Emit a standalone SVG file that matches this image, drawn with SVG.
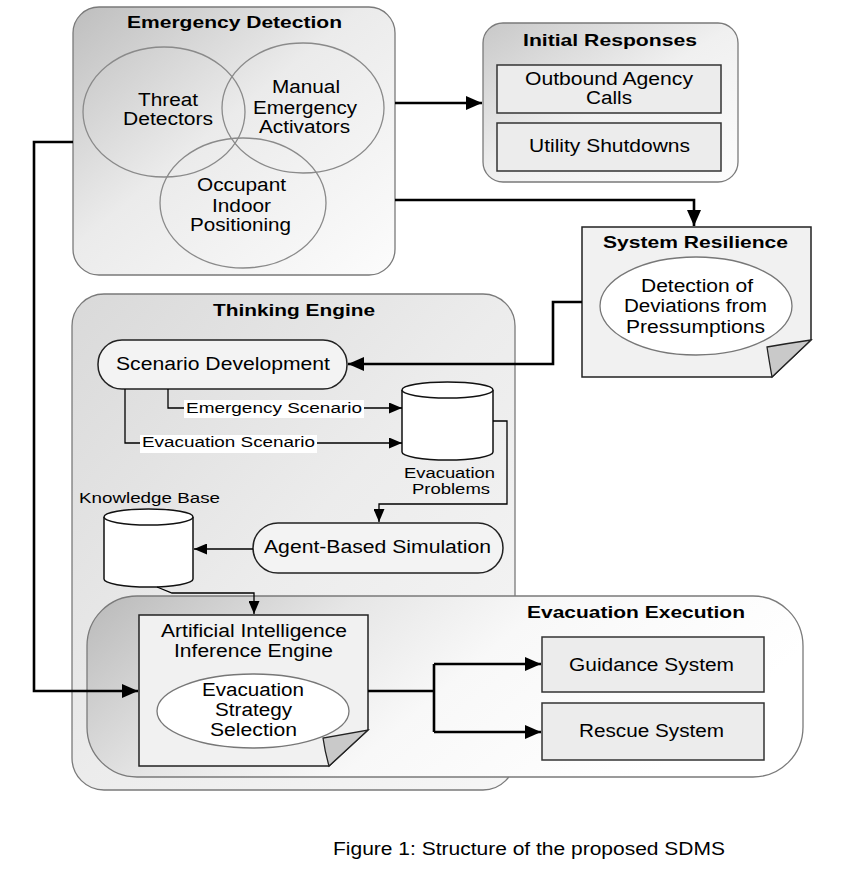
<svg xmlns="http://www.w3.org/2000/svg" width="850" height="875" viewBox="0 0 850 875">
<defs>
<linearGradient id="gED" x1="0" y1="0" x2="1" y2="1">
<stop offset="0" stop-color="#bebebe"/><stop offset="0.45" stop-color="#ebebeb"/><stop offset="1" stop-color="#fcfcfc"/>
</linearGradient>
<linearGradient id="gIR" x1="0" y1="0" x2="1" y2="1">
<stop offset="0" stop-color="#c8c8c8"/><stop offset="0.5" stop-color="#f0f0f0"/><stop offset="1" stop-color="#fcfcfc"/>
</linearGradient>
<linearGradient id="gTE" x1="0" y1="0" x2="1" y2="1">
<stop offset="0" stop-color="#d9d9d9"/><stop offset="0.5" stop-color="#ececec"/><stop offset="1" stop-color="#f6f6f6"/>
</linearGradient>
<linearGradient id="gEE" x1="0" y1="0" x2="1" y2="0.3">
<stop offset="0" stop-color="#b9b9b9"/><stop offset="0.35" stop-color="#e6e6e6"/><stop offset="0.6" stop-color="#f8f8f8"/><stop offset="1" stop-color="#ffffff"/>
</linearGradient>
<marker id="ah" markerUnits="userSpaceOnUse" markerWidth="18" markerHeight="14" refX="16" refY="7" orient="auto">
<path d="M0,0 L16,7 L0,14 Z" fill="#000"/>
</marker>
<marker id="as" markerUnits="userSpaceOnUse" markerWidth="14" markerHeight="11" refX="13" refY="5.5" orient="auto">
<path d="M0,0 L13,5.5 L0,11 Z" fill="#000"/>
</marker>
</defs>
<style>
text{font-family:"Liberation Sans",Arial,sans-serif;font-size:18px;fill:#000;text-anchor:middle}
.b{font-weight:bold;font-size:16.5px}
.s{font-size:15.5px}
.cont{stroke:#7a7a7a;stroke-width:1.3}
.circ{fill:none;stroke:#8a8a8a;stroke-width:1.3}
.box{fill:#ececec;stroke:#333;stroke-width:1.5}
.doc{fill:#f1f1f1;stroke:#222;stroke-width:1.5}
.fold{fill:#c9c9c9;stroke:#222;stroke-width:1.3}
.ell{fill:#fff;stroke:#777;stroke-width:1.3}
.rnd{fill:#f3f3f3;stroke:#222;stroke-width:1.5}
.cyl{fill:#fff;stroke:#111;stroke-width:1.5}
.thick{fill:none;stroke:#000;stroke-width:2.6}
.thin{fill:none;stroke:#000;stroke-width:1.3}
</style>

<g id="thinking-engine">
<rect x="72" y="294" width="443" height="496" rx="32" fill="url(#gTE)" class="cont"/>
<text x="294" y="316" class="b" textLength="162" lengthAdjust="spacingAndGlyphs">Thinking Engine</text>
</g>

<g id="emergency-detection">
<rect x="73" y="7" width="322" height="268" rx="26" fill="url(#gED)" class="cont"/>
<text x="234.5" y="28" class="b" textLength="215" lengthAdjust="spacingAndGlyphs">Emergency Detection</text>
<ellipse cx="164" cy="112" rx="81" ry="65" class="circ"/>
<ellipse cx="303" cy="108" rx="81" ry="65" class="circ"/>
<ellipse cx="243" cy="203" rx="83" ry="65" class="circ"/>
<text x="168" y="106" textLength="60" lengthAdjust="spacingAndGlyphs">Threat</text>
<text x="168" y="125" textLength="90" lengthAdjust="spacingAndGlyphs">Detectors</text>
<text x="306" y="93" textLength="68" lengthAdjust="spacingAndGlyphs">Manual</text>
<text x="305" y="114" textLength="104" lengthAdjust="spacingAndGlyphs">Emergency</text>
<text x="304.5" y="133" textLength="91" lengthAdjust="spacingAndGlyphs">Activators</text>
<text x="241.5" y="191" textLength="89" lengthAdjust="spacingAndGlyphs">Occupant</text>
<text x="241.5" y="212" textLength="59" lengthAdjust="spacingAndGlyphs">Indoor</text>
<text x="240.5" y="231" textLength="101" lengthAdjust="spacingAndGlyphs">Positioning</text>
</g>

<g id="initial-responses">
<rect x="483" y="23" width="255" height="159" rx="20" fill="url(#gIR)" class="cont"/>
<text x="610" y="46" class="b" textLength="174" lengthAdjust="spacingAndGlyphs">Initial Responses</text>
<rect x="497" y="65" width="224" height="48" class="box"/>
<text x="609" y="85" textLength="168" lengthAdjust="spacingAndGlyphs">Outbound Agency</text>
<text x="609" y="104" textLength="46" lengthAdjust="spacingAndGlyphs">Calls</text>
<rect x="497" y="123" width="224" height="48" class="box"/>
<text x="609.5" y="152" textLength="161" lengthAdjust="spacingAndGlyphs">Utility Shutdowns</text>
</g>

<g id="system-resilience">
<path d="M582,227 H811 V340 L772,377 H582 Z" class="doc"/>
<path d="M772,377 Q769,360 767,347 Q790,343 811,340 Z" class="fold"/>
<text x="695.5" y="248" class="b" textLength="185" lengthAdjust="spacingAndGlyphs">System Resilience</text>
<ellipse cx="696" cy="306" rx="96" ry="49" class="ell"/>
<text x="697" y="292" textLength="112" lengthAdjust="spacingAndGlyphs">Detection of</text>
<text x="695.5" y="312" textLength="143" lengthAdjust="spacingAndGlyphs">Deviations from</text>
<text x="695.5" y="333" textLength="139" lengthAdjust="spacingAndGlyphs">Pressumptions</text>
</g>

<g id="scenario-development">
<rect x="98" y="340" width="249" height="49" rx="24" class="rnd"/>
<text x="223" y="370" textLength="214" lengthAdjust="spacingAndGlyphs">Scenario Development</text>
</g>

<g id="evacuation-problems">
<path d="M402,390 V452 A45.5,8 0 0 0 493,452 V390" class="cyl"/>
<ellipse cx="447.5" cy="390" rx="45.5" ry="8" class="cyl"/>
<text x="449.5" y="478" class="s" textLength="91" lengthAdjust="spacingAndGlyphs">Evacuation</text>
<text x="451" y="494" class="s" textLength="78" lengthAdjust="spacingAndGlyphs">Problems</text>
</g>

<g id="knowledge-base">
<text x="149.5" y="503" class="s" textLength="141" lengthAdjust="spacingAndGlyphs">Knowledge Base</text>
<path d="M104,517 V579 A44.5,8 0 0 0 193,579 V517" class="cyl"/>
<ellipse cx="148.5" cy="517" rx="44.5" ry="8" class="cyl"/>
</g>

<g id="agent-based-simulation">
<rect x="253" y="523" width="250" height="50" rx="25" class="rnd"/>
<text x="377.5" y="553" textLength="227" lengthAdjust="spacingAndGlyphs">Agent-Based Simulation</text>
</g>

<g id="evacuation-execution">
<rect x="87" y="596" width="716" height="181" rx="50" fill="url(#gEE)" class="cont"/>
<text x="636" y="618" class="b" textLength="218" lengthAdjust="spacingAndGlyphs">Evacuation Execution</text>
</g>

<g id="ai-inference-engine">
<path d="M139,615 H368 V730 L329,766 H139 Z" class="doc"/>
<path d="M329,766 Q325,752 323,738 Q345,734 368,730 Z" class="fold"/>
<text x="254" y="637" textLength="186" lengthAdjust="spacingAndGlyphs">Artificial Intelligence</text>
<text x="253.5" y="657" textLength="159" lengthAdjust="spacingAndGlyphs">Inference Engine</text>
<ellipse cx="253" cy="711" rx="96" ry="37" class="ell"/>
<text x="253" y="696" textLength="102" lengthAdjust="spacingAndGlyphs">Evacuation</text>
<text x="253.5" y="716" textLength="77" lengthAdjust="spacingAndGlyphs">Strategy</text>
<text x="253.5" y="736" textLength="87" lengthAdjust="spacingAndGlyphs">Selection</text>
</g>

<g id="guidance-system">
<rect x="542" y="637" width="222" height="55" class="box"/>
<text x="651.5" y="671" textLength="165" lengthAdjust="spacingAndGlyphs">Guidance System</text>
</g>

<g id="rescue-system">
<rect x="542" y="703" width="222" height="57" class="box"/>
<text x="651.5" y="737" textLength="145" lengthAdjust="spacingAndGlyphs">Rescue System</text>
</g>

<g id="connectors">
<path d="M73,142 H34 V691 H138" class="thick" marker-end="url(#ah)"/>
<path d="M395,103 H482" class="thick" marker-end="url(#ah)"/>
<path d="M395,200 H694 V226" class="thick" marker-end="url(#ah)"/>
<path d="M582,302 H553 V364 H348" class="thick" marker-end="url(#ah)"/>
<path d="M368,691 H434 M434,664 V732" class="thick"/>
<path d="M434,664 H541" class="thick" marker-end="url(#ah)"/>
<path d="M434,732 H541" class="thick" marker-end="url(#ah)"/>
<path d="M168,389 V408 H402" class="thin" marker-end="url(#as)"/>
<path d="M125,389 V443 H402" class="thin" marker-end="url(#as)"/>
<rect x="184" y="400" width="180" height="18" fill="#fff"/>
<text x="274" y="413" class="s" textLength="176" lengthAdjust="spacingAndGlyphs">Emergency Scenario</text>
<rect x="140" y="435" width="177" height="18" fill="#fff"/>
<text x="228.5" y="447" class="s" textLength="173" lengthAdjust="spacingAndGlyphs">Evacuation Scenario</text>
<path d="M493,421 H507 V504 H379 V522" class="thin" marker-end="url(#as)"/>
<path d="M253,549 H194" class="thin" marker-end="url(#as)"/>
<path d="M157,587 L172,593 H254 V614" class="thin" marker-end="url(#as)"/>
</g>

<text x="529" y="855" textLength="392" lengthAdjust="spacingAndGlyphs">Figure 1: Structure of the proposed SDMS</text>
</svg>
